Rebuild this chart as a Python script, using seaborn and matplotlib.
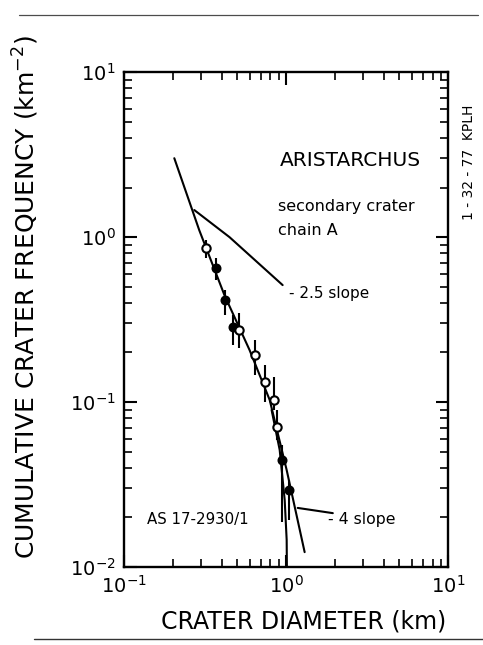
import numpy as np
import pandas as pd
import seaborn as sns
import matplotlib
matplotlib.use("Agg")
import matplotlib.pyplot as plt
from matplotlib.lines import Line2D

# ---- data ----
diam = [0.322, 0.37, 0.42, 0.467, 0.515, 0.638, 0.736, 0.837, 0.873, 0.938, 1.036]
freq = [0.857, 0.65, 0.415, 0.285, 0.273, 0.193, 0.132, 0.103, 0.0705, 0.0445, 0.0293]
err_lo = [0.746, 0.548, 0.337, 0.222, 0.212, 0.146, 0.100, 0.0895, 0.0589, 0.0187, 0.0193]
err_hi = [0.959, 0.746, 0.477, 0.337, 0.346, 0.238, 0.168, 0.142, 0.0895, 0.0548, 0.0337]
filled = [False, True, True, True, False, False, False, False, False, True, True]

fit_d = [0.204, 0.291, 0.416, 0.594, 0.791, 1.007, 1.30]
fit_n = [3.01, 1.10, 0.445, 0.207, 0.103, 0.0387, 0.0123]

drop_d = [0.813, 0.912, 0.979, 1.007, 1.01]
drop_n = [0.0895, 0.0512, 0.0255, 0.0146, 0.0100]

s25_d = [0.271, 0.447, 0.951]
s25_n = [1.46, 1.00, 0.512]

lead4_d = [1.178, 1.94]
lead4_n = [0.0228, 0.0212]

xticks = [0.1, 1, 10]
yticks = [0.01, 0.1, 1, 10]

sns.set_theme(style="ticks")
plt.rcParams['font.family'] = ['DejaVu Sans']
plt.rcParams['text.color'] = 'black'
plt.rcParams['axes.labelcolor'] = 'black'
plt.rcParams['xtick.color'] = 'black'
plt.rcParams['ytick.color'] = 'black'

fig = plt.figure(figsize=(4.83, 6.45), dpi=100)
ax = fig.add_axes([0.257, 0.121, 0.671, 0.767])

pts = pd.DataFrame({"d": diam, "n": freq, "filled": filled})
lines = [
    pd.DataFrame({"d": fit_d, "n": fit_n}),
    pd.DataFrame({"d": drop_d, "n": drop_n}),
    pd.DataFrame({"d": s25_d, "n": s25_n}),
    pd.DataFrame({"d": lead4_d, "n": lead4_n}),
]
for df in lines:
    sns.lineplot(data=df, x="d", y="n", sort=False, estimator=None,
                 color="black", lw=1.5, ax=ax)

ax.vlines(diam, err_lo, err_hi, color="black", lw=1.5)

sns.scatterplot(data=pts[pts.filled], x="d", y="n", marker="o", s=36,
                color="black", edgecolor="black", linewidth=1.2, ax=ax, zorder=5)
sns.scatterplot(data=pts[~pts.filled], x="d", y="n", marker="o", s=36,
                color="white", edgecolor="black", linewidth=1.5, ax=ax, zorder=5)

ax.set_xscale("log")
ax.set_yscale("log")
ax.set_xlim(0.1, 10)
ax.set_ylim(0.01, 10)
ax.set_xticks(xticks)
ax.set_yticks(yticks)
ax.set_xticklabels([r"$10^{-1}$", r"$10^{0}$", r"$10^{1}$"], fontsize=14)
ax.set_yticklabels([r"$10^{-2}$", r"$10^{-1}$", r"$10^{0}$", r"$10^{1}$"], fontsize=14)
ax.tick_params(which="major", direction="in", length=9, width=1.5,
               top=True, right=True, pad=6)
ax.tick_params(which="minor", direction="in", length=6, width=1.2,
               top=True, right=True)
for sp in ax.spines.values():
    sp.set_linewidth(1.7)
    sp.set_color("black")

ax.set_xlabel("CRATER DIAMETER (km)", fontsize=17, labelpad=2)
ax.xaxis.set_label_coords(0.555, -0.085)
ax.set_ylabel(r"CUMULATIVE CRATER FREQUENCY (km$^{-2}$)", fontsize=18)
ax.yaxis.set_label_coords(-0.255, 0.545)

ax.text(0.48, 0.822, "ARISTARCHUS", transform=ax.transAxes, fontsize=14.5, va="center")
ax.text(0.475, 0.728, "secondary crater", transform=ax.transAxes, fontsize=11.5, va="center")
ax.text(0.475, 0.681, "chain A", transform=ax.transAxes, fontsize=11.5, va="center")
ax.text(0.508, 0.552, "- 2.5 slope", transform=ax.transAxes, fontsize=11, va="center")
ax.text(0.63, 0.095, "- 4 slope", transform=ax.transAxes, fontsize=11.3, va="center")
ax.text(0.07, 0.095, "AS 17-2930/1", transform=ax.transAxes, fontsize=10.8, va="center")

fig.text(0.972, 0.659, "1 - 32 - 77  KPLH", rotation=90, fontsize=10,
         ha="center", va="bottom")

# scan border lines
fig.add_artist(Line2D([0.04, 0.99], [0.977, 0.977], color="black", lw=0.9,
                      transform=fig.transFigure, alpha=0.7))
fig.add_artist(Line2D([0.07, 1.0], [0.01, 0.01], color="black", lw=1.0,
                      transform=fig.transFigure, alpha=0.8))

fig.savefig("out.png", dpi=100, facecolor="white")
